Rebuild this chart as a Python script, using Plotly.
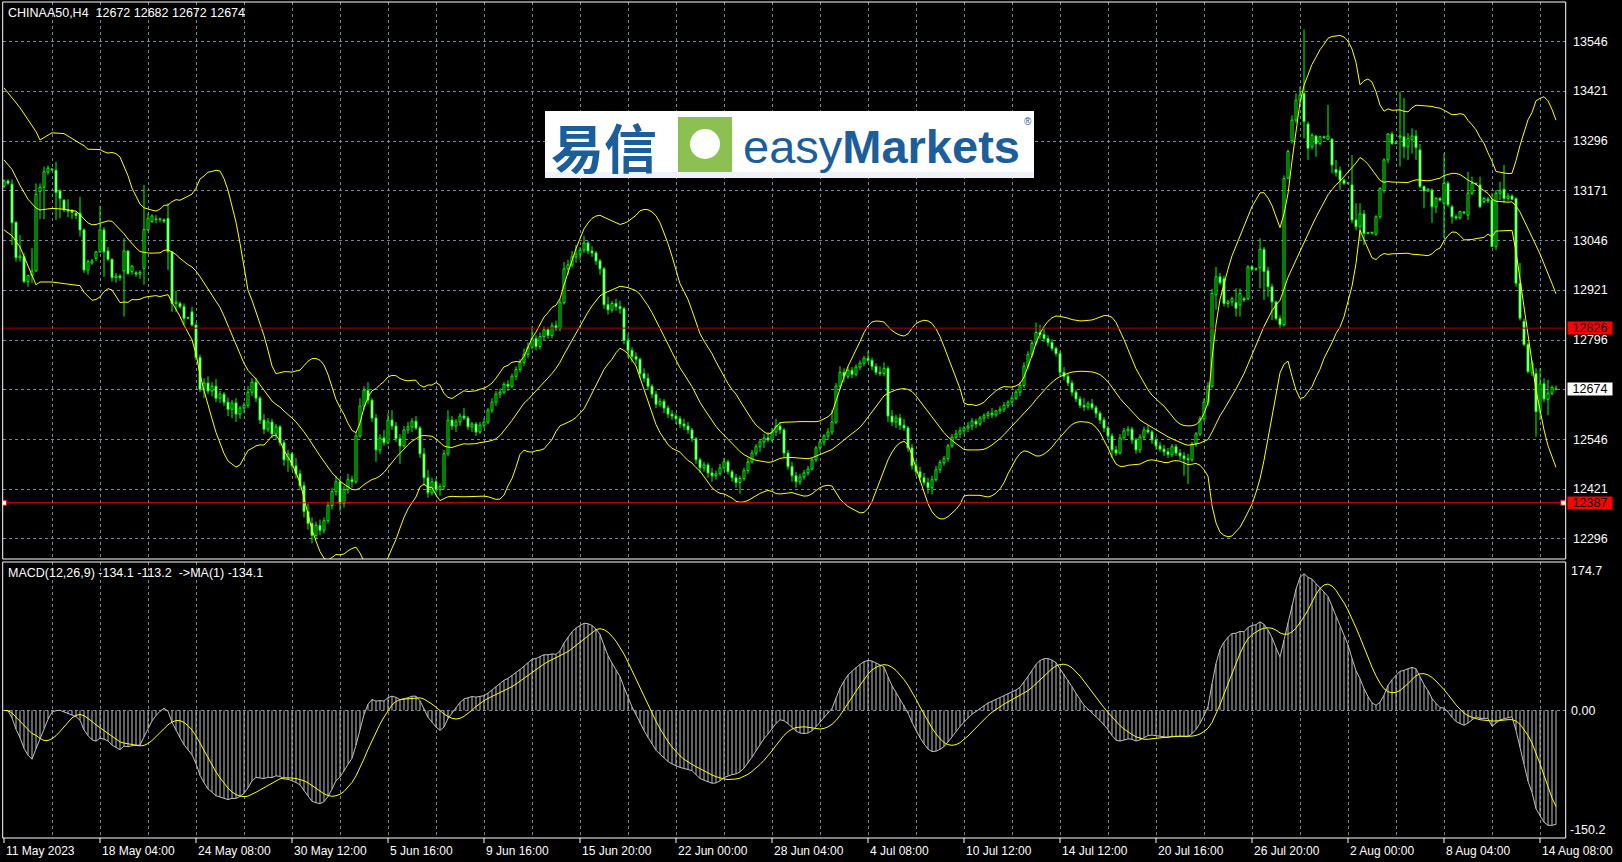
import numpy as np
import pandas as pd
import plotly.graph_objects as go

W, H = 1622, 862

# ---------------- data ----------------
x_tick_bars = [0, 24, 48, 72, 96, 120, 144, 168, 192, 216, 240, 264, 288, 312, 336, 360, 384]
x_tick_labels = ["11 May 2023", "18 May 04:00", "24 May 08:00", "30 May 12:00", "5 Jun 16:00",
                 "9 Jun 16:00", "15 Jun 20:00", "22 Jun 00:00", "28 Jun 04:00", "4 Jul 08:00",
                 "10 Jul 12:00", "14 Jul 12:00", "20 Jul 16:00", "26 Jul 20:00", "2 Aug 00:00",
                 "8 Aug 04:00", "14 Aug 08:00"]
price_labels = [13546, 13421, 13296, 13171, 13046, 12921, 12796, 12546, 12421, 12296]
price_grid = [13546, 13421, 13296, 13171, 13046, 12921, 12796, 12671, 12546, 12421, 12296]

opens = [
    13183, 13196, 13188, 13092, 13003, 13006, 12943, 12958, 12970, 13169,
    13180, 13218, 13226, 13223, 13171, 13148, 13123, 13122, 13115, 13115,
    13073, 12972, 12990, 13001, 13018, 13073, 13020, 12999, 12953, 12957,
    12970, 13020, 12968, 12965, 12962, 12976, 13073, 13094, 13100, 13099,
    13098, 13102, 13018, 12888, 12888, 12880, 12851, 12867,
    12834, 12752, 12672, 12688, 12668, 12680, 12650, 12660, 12640, 12622,
    12638, 12610, 12625, 12632, 12665, 12690, 12650, 12595, 12572, 12590,
    12560, 12578, 12538, 12495, 12510, 12480, 12460, 12430, 12365, 12335,
    12305, 12330, 12318, 12342, 12380, 12415, 12440, 12385, 12420, 12445,
    12440, 12555, 12630, 12670, 12645, 12600, 12520, 12550, 12538, 12595,
    12580, 12548, 12530, 12570, 12578, 12592, 12575, 12510, 12450, 12412,
    12440, 12420, 12428, 12510, 12595, 12580, 12590, 12605, 12600, 12578,
    12585, 12565, 12582, 12590, 12620, 12640, 12660, 12665, 12685, 12680,
    12705, 12722, 12740, 12760, 12778, 12800, 12780, 12805, 12822, 12808,
    12832, 12825, 12890, 12975, 12985, 13005, 13012, 13022, 13040, 13020,
    13015, 12995, 12975, 12885, 12872, 12888, 12880, 12875, 12795, 12770,
    12755, 12748, 12712, 12700, 12680, 12660, 12635, 12642, 12625, 12610,
    12605, 12598, 12585, 12580, 12570, 12548, 12495, 12475, 12482, 12462,
    12455, 12460, 12475, 12490, 12465, 12450, 12438, 12448, 12468, 12490,
    12512, 12528, 12540, 12550, 12545, 12565, 12580, 12570, 12512, 12478,
    12455, 12440, 12452, 12462, 12472, 12495, 12525, 12540, 12555, 12565,
    12590, 12680, 12715, 12705, 12720, 12710, 12728, 12738, 12750, 12745,
    12730, 12715, 12712, 12725, 12605, 12590, 12600, 12582, 12575, 12525,
    12480, 12465, 12450, 12438, 12425, 12445, 12470, 12488, 12498, 12530,
    12552, 12560, 12568, 12575, 12580, 12592, 12585, 12600, 12606, 12612,
    12608, 12618, 12622, 12632, 12640, 12650, 12665, 12682, 12730, 12760,
    12788, 12815, 12810, 12800, 12790, 12775, 12762, 12715, 12705, 12688,
    12665, 12648, 12632, 12628, 12636, 12626, 12612, 12595, 12575, 12555,
    12520, 12512, 12550, 12568, 12572, 12545, 12520, 12552, 12570, 12565,
    12545, 12530, 12522, 12515, 12508, 12528, 12512, 12505, 12498, 12495,
    12535, 12560, 12598, 12640, 12680, 12910, 12955, 12950, 12888, 12892,
    12890, 12884, 12900, 12900, 12980, 12974, 12978, 13024, 12970, 12930,
    12892, 12850, 12835, 13203, 13297, 13349, 13399, 13416, 13339, 13282,
    13309, 13290, 13307, 13301, 13301, 13225, 13222, 13198, 13190, 13186,
    13098, 13081, 13113, 13064, 13066, 13062, 13106, 13172, 13249, 13314,
    13290, 13306, 13307, 13282, 13300, 13309, 13274, 13182, 13171, 13173,
    13131, 13152, 13140, 13190, 13131, 13106, 13103, 13118, 13110, 13165,
    13190, 13186, 13144, 13150, 13148, 13031, 13165, 13175, 13152, 13158,
    13152, 12939, 12843, 12785, 12714, 12712, 12616, 12686, 12647, 12662, 12672]
highs = [
    13200, 13200, 13200, 13095, 13060, 13015, 12960, 13027, 13190, 13190,
    13232, 13235, 13228, 13244, 13175, 13150, 13150, 13125, 13118, 13156,
    13076, 12998, 13000, 13020, 13133, 13080, 13030, 13002, 12965, 12962,
    13052, 13022, 12985, 12970, 12972, 13186, 13115, 13112, 13110, 13104,
    13102, 13140, 13020, 12920, 12893, 12888, 12855, 12880,
    12840, 12760, 12700, 12705, 12690, 12698, 12668, 12665, 12652, 12645,
    12650, 12630, 12640, 12680, 12700, 12702, 12655, 12610, 12600, 12598,
    12585, 12582, 12545, 12520, 12515, 12500, 12470, 12440, 12385, 12350,
    12340, 12345, 12350, 12390, 12425, 12455, 12448, 12430, 12460, 12455,
    12565, 12650, 12680, 12690, 12650, 12610, 12560, 12570, 12612, 12620,
    12590, 12560, 12580, 12590, 12600, 12605, 12580, 12525, 12470, 12450,
    12448, 12435, 12520, 12620, 12605, 12598, 12612, 12625, 12605, 12590,
    12590, 12590, 12600, 12625, 12650, 12668, 12675, 12690, 12695, 12712,
    12730, 12748, 12775, 12790, 12830, 12808, 12815, 12830, 12828, 12840,
    12845, 12900, 12992, 12998, 13020, 13035, 13030, 13058, 13045, 13032,
    13020, 13000, 12980, 12905, 12895, 12900, 12895, 12880, 12810, 12778,
    12765, 12752, 12725, 12712, 12685, 12668, 12650, 12648, 12632, 12620,
    12612, 12605, 12598, 12590, 12575, 12552, 12500, 12490, 12488, 12475,
    12468, 12485, 12500, 12495, 12470, 12460, 12455, 12475, 12500, 12520,
    12535, 12545, 12560, 12565, 12575, 12598, 12590, 12575, 12520, 12490,
    12465, 12460, 12470, 12480, 12500, 12530, 12545, 12560, 12575, 12620,
    12688, 12730, 12725, 12730, 12728, 12735, 12745, 12756, 12768, 12752,
    12738, 12730, 12740, 12730, 12620, 12608, 12610, 12598, 12580, 12535,
    12495, 12478, 12462, 12450, 12455, 12480, 12495, 12505, 12535, 12560,
    12570, 12578, 12580, 12590, 12600, 12598, 12605, 12612, 12618, 12625,
    12620, 12630, 12640, 12645, 12658, 12672, 12690, 12740, 12768, 12795,
    12840, 12835, 12828, 12808, 12798, 12780, 12768, 12728, 12712, 12695,
    12672, 12655, 12650, 12642, 12648, 12632, 12618, 12602, 12580, 12562,
    12530, 12560, 12575, 12580, 12578, 12550, 12560, 12578, 12582, 12570,
    12552, 12540, 12532, 12525, 12535, 12535, 12522, 12515, 12510, 12540,
    12565, 12605, 12650, 12690, 12925, 12980, 12965, 12958, 12898, 12905,
    12926, 12926, 12905, 12984, 12985, 12978, 13052, 13030, 12980, 12938,
    12895, 12858, 13210, 13275, 13361, 13416, 13433, 13577, 13345, 13316,
    13311, 13310, 13310, 13387, 13303, 13249, 13232, 13202, 13193, 13261,
    13140, 13140, 13123, 13068, 13069, 13110, 13180, 13253, 13316, 13320,
    13296, 13420, 13404, 13316, 13328, 13324, 13289, 13185, 13178, 13177,
    13156, 13156, 13265, 13195, 13136, 13112, 13121, 13120, 13219, 13207,
    13192, 13207, 13156, 13156, 13165, 13173, 13194, 13236, 13165, 13163,
    13155, 12990, 12850, 12790, 12745, 12725, 12725, 12700, 12696, 12682, 12682]
lows = [
    13178, 13186, 13035, 12993, 12993, 12939, 12930, 12939, 12968, 13100,
    13100, 13212, 13222, 13098, 13102, 13118, 13105, 13100, 13100, 13056,
    12965, 12960, 12985, 12995, 13015, 12955, 12995, 12943, 12940, 12945,
    12855, 12960, 12960, 12955, 12950, 12935, 13070, 13090, 13090, 13092,
    13090, 12972, 12867, 12867, 12875, 12835, 12848, 12830,
    12745, 12665, 12650, 12660, 12655, 12640, 12638, 12630, 12605, 12600,
    12590, 12598, 12612, 12625, 12655, 12640, 12585, 12560, 12565, 12550,
    12545, 12530, 12480, 12465, 12470, 12448, 12420, 12350, 12320, 12285,
    12295, 12305, 12310, 12335, 12370, 12405, 12365, 12375, 12410, 12425,
    12435, 12550, 12620, 12635, 12590, 12490, 12510, 12530, 12535, 12570,
    12540, 12485, 12525, 12560, 12565, 12570, 12500, 12430, 12400, 12405,
    12410, 12405, 12420, 12505, 12570, 12565, 12580, 12595, 12570, 12565,
    12555, 12560, 12575, 12585, 12612, 12630, 12650, 12660, 12668, 12675,
    12695, 12715, 12730, 12750, 12772, 12770, 12772, 12795, 12800, 12800,
    12818, 12818, 12885, 12960, 12978, 12990, 12998, 13015, 13012, 13005,
    12985, 12960, 12875, 12860, 12865, 12870, 12862, 12785, 12752, 12740,
    12735, 12700, 12690, 12670, 12650, 12625, 12628, 12612, 12600, 12595,
    12585, 12575, 12570, 12560, 12540, 12485, 12462, 12465, 12450, 12440,
    12445, 12455, 12468, 12458, 12440, 12425, 12410, 12442, 12460, 12485,
    12505, 12515, 12525, 12540, 12540, 12555, 12560, 12500, 12470, 12440,
    12425, 12432, 12445, 12455, 12468, 12490, 12515, 12530, 12545, 12558,
    12585, 12672, 12690, 12698, 12700, 12705, 12720, 12730, 12740, 12720,
    12708, 12705, 12705, 12590, 12580, 12575, 12570, 12568, 12515, 12470,
    12455, 12440, 12430, 12410, 12408, 12440, 12462, 12480, 12490, 12525,
    12545, 12550, 12560, 12565, 12570, 12575, 12580, 12590, 12598, 12600,
    12602, 12610, 12615, 12625, 12632, 12645, 12655, 12675, 12722, 12752,
    12782, 12798, 12792, 12780, 12768, 12755, 12705, 12695, 12680, 12655,
    12640, 12625, 12618, 12620, 12620, 12600, 12585, 12565, 12545, 12500,
    12505, 12508, 12545, 12555, 12535, 12510, 12512, 12545, 12560, 12535,
    12520, 12515, 12505, 12500, 12502, 12505, 12495, 12455, 12434, 12490,
    12528, 12555, 12590, 12630, 12675, 12872, 12935, 12880, 12878, 12882,
    12855, 12855, 12892, 12897, 12968, 12970, 12926, 12897, 12905, 12846,
    12845, 12825, 12830, 13200, 13290, 13341, 13391, 13303, 13249, 13275,
    13257, 13285, 13302, 13299, 13215, 13207, 13173, 13186, 13187, 13089,
    13072, 13048, 13035, 13062, 13061, 13058, 13100, 13165, 13240, 13286,
    13288, 13232, 13253, 13249, 13265, 13249, 13177, 13127, 13168, 13091,
    13115, 13144, 13052, 13130, 13089, 13098, 13099, 13112, 13098, 13161,
    13185, 13127, 13140, 13140, 13031, 13022, 13148, 13140, 13145, 13148,
    12930, 12845, 12780, 12712, 12705, 12553, 12595, 12640, 12607, 12657, 12672]
closes = [
    13196, 13190, 13091, 13003, 13007, 12943, 12958, 12970, 13162, 13180,
    13219, 13228, 13224, 13167, 13152, 13123, 13120, 13117, 13109, 13073,
    12972, 12993, 12995, 13018, 13073, 13018, 12999, 12953, 12957, 12953,
    13020, 12963, 12982, 12962, 12966, 13074, 13102, 13108, 13099, 13100,
    13095, 13018, 12888, 12892, 12880, 12851, 12851, 12834,
    12752, 12672, 12688, 12668, 12680, 12650, 12660, 12640, 12622, 12638,
    12610, 12625, 12632, 12665, 12690, 12650, 12595, 12572, 12590, 12560,
    12578, 12538, 12495, 12510, 12480, 12460, 12430, 12365, 12335, 12305,
    12330, 12318, 12342, 12380, 12415, 12440, 12385, 12420, 12445, 12440,
    12555, 12630, 12670, 12645, 12600, 12520, 12550, 12538, 12595, 12580,
    12548, 12530, 12570, 12578, 12592, 12575, 12510, 12450, 12412, 12440,
    12420, 12428, 12510, 12595, 12580, 12590, 12605, 12600, 12578, 12585,
    12565, 12582, 12590, 12620, 12640, 12660, 12665, 12685, 12680, 12705,
    12722, 12740, 12760, 12778, 12800, 12780, 12805, 12822, 12808, 12832,
    12825, 12890, 12975, 12985, 13005, 13012, 13022, 13040, 13020, 13015,
    12995, 12975, 12885, 12872, 12888, 12880, 12875, 12795, 12770, 12755,
    12748, 12712, 12700, 12680, 12660, 12635, 12642, 12625, 12610, 12605,
    12598, 12585, 12580, 12570, 12548, 12495, 12475, 12482, 12462, 12455,
    12460, 12475, 12490, 12465, 12450, 12438, 12448, 12468, 12490, 12512,
    12528, 12540, 12550, 12545, 12565, 12580, 12570, 12512, 12478, 12455,
    12440, 12452, 12462, 12472, 12495, 12525, 12540, 12555, 12565, 12590,
    12680, 12715, 12705, 12720, 12710, 12728, 12738, 12750, 12745, 12730,
    12715, 12712, 12725, 12605, 12590, 12600, 12582, 12575, 12525, 12480,
    12465, 12450, 12438, 12425, 12445, 12470, 12488, 12498, 12530, 12552,
    12560, 12568, 12575, 12580, 12592, 12585, 12600, 12606, 12612, 12608,
    12618, 12622, 12632, 12640, 12650, 12665, 12682, 12730, 12760, 12788,
    12815, 12810, 12800, 12790, 12775, 12762, 12715, 12705, 12688, 12665,
    12648, 12632, 12628, 12636, 12626, 12612, 12595, 12575, 12555, 12520,
    12512, 12550, 12568, 12572, 12545, 12520, 12552, 12570, 12565, 12545,
    12530, 12522, 12515, 12508, 12528, 12512, 12505, 12498, 12495, 12535,
    12560, 12598, 12640, 12680, 12913, 12955, 12940, 12888, 12892, 12900,
    12876, 12913, 12897, 12980, 12974, 12975, 13024, 12968, 12930, 12892,
    12850, 12835, 13202, 13270, 13349, 13399, 13412, 13345, 13278, 13311,
    13289, 13307, 13305, 13309, 13236, 13217, 13198, 13190, 13191, 13098,
    13081, 13113, 13064, 13066, 13065, 13106, 13177, 13249, 13314, 13290,
    13292, 13309, 13282, 13303, 13309, 13280, 13182, 13171, 13175, 13131,
    13152, 13148, 13190, 13136, 13106, 13103, 13119, 13116, 13165, 13190,
    13188, 13131, 13152, 13146, 13031, 13165, 13171, 13152, 13158, 13150,
    12939, 12851, 12785, 12717, 12738, 12616, 12686, 12648, 12662, 12677, 12674]

# Bollinger values for the bars before a full 20-bar window exists
bb_head_bars = [0, 2, 4, 6, 8, 9, 12, 15, 18]
bb_head_upper = [13430, 13405, 13380, 13350, 13320, 13299, 13317, 13315, 13295]
bb_head_mid = [13249, 13225, 13185, 13150, 13128, 13123, 13127, 13125, 13120]
bb_head_lower = [13073, 13058, 13030, 12980, 12935, 12942, 12942, 12938, 12935]

# ---------------- geometry ----------------
PX_L, PX_R = 2.7, 1565.7
PY_T1, PY_B1 = 2.0, 559.0
PY_T2, PY_B2 = 562.0, 838.0


def fx(p):
    return p / W


def fy(p):
    return 1 - p / H


X_RANGE = [(PX_L - 4) / 4, (PX_R - 4) / 4]
P_RANGE = [12245.7, 13645.8]
M_RANGE = [-150.2, 174.7]

LIME = "#00FF00"
YEL = "#FFFF00"
SILVER = "#C0C0C0"
GRID = "#778899"
FONT = "Liberation Sans"

o = np.array(opens, float)
c = np.array(closes, float)
h = np.maximum.reduce([np.array(highs, float), o, c])
l = np.minimum.reduce([np.array(lows, float), o, c])
N = len(c)
xb = np.arange(N)

fig = go.Figure()

# candle wicks (split so they do not cross the hollow bodies)
wx, wy = [], []
for i in range(N):
    top, bot = max(o[i], c[i]), min(o[i], c[i])
    wx += [i, i, None, i, i, None]
    wy += [h[i], top, None, bot, l[i], None]
fig.add_trace(go.Scatter(x=wx, y=wy, mode="lines", line=dict(color=LIME, width=1),
                         hoverinfo="skip", xaxis="x", yaxis="y"))
bull = c >= o
for mask, fill in ((bull, "black"), (~bull, "white")):
    idx = xb[mask]
    base = np.minimum(o, c)[mask]
    hgt = np.maximum(np.abs(c - o)[mask], 1.5)
    fig.add_trace(go.Bar(x=idx, y=hgt, base=base, width=0.5,
                         marker=dict(color=fill, line=dict(color=LIME, width=1)),
                         hoverinfo="skip", xaxis="x", yaxis="y"))

# Bollinger bands (20, 2)
cs = pd.Series(c)
mid = cs.rolling(20).mean()
sd = cs.rolling(20).std(ddof=0)
up = mid + 2 * sd
lo = mid - 2 * sd
for head, ser in ((bb_head_upper, up), (bb_head_mid, mid), (bb_head_lower, lo)):
    xs = list(bb_head_bars) + list(range(19, N))
    ys = list(head) + list(ser.values[19:])
    fig.add_trace(go.Scatter(x=xs, y=ys, mode="lines", line=dict(color=YEL, width=1),
                             hoverinfo="skip", xaxis="x", yaxis="y"))

# MACD (12,26,9)
ema12 = cs.ewm(span=12, adjust=False).mean()
ema26 = cs.ewm(span=26, adjust=False).mean()
macd = (ema12 - ema26).values
signal = pd.Series(macd).rolling(9, min_periods=1).mean().values
hx, hy = [], []
for i in range(N):
    hx += [i, i, None]
    hy += [0, macd[i], None]
fig.add_trace(go.Scatter(x=hx, y=hy, mode="lines", line=dict(color=SILVER, width=1),
                         hoverinfo="skip", xaxis="x2", yaxis="y2"))
fig.add_trace(go.Scatter(x=xb, y=macd, mode="lines", line=dict(color=SILVER, width=1),
                         hoverinfo="skip", xaxis="x2", yaxis="y2"))
fig.add_trace(go.Scatter(x=xb, y=signal, mode="lines", line=dict(color=YEL, width=1),
                         hoverinfo="skip", xaxis="x2", yaxis="y2"))

# horizontal levels
fig.add_trace(go.Scatter(x=[X_RANGE[0], X_RANGE[1]], y=[12826, 12826], mode="lines",
                         line=dict(color="#A80000", width=1), hoverinfo="skip", xaxis="x", yaxis="y"))
fig.add_trace(go.Scatter(x=[0, X_RANGE[1]], y=[12387, 12387], mode="lines",
                         line=dict(color="#FF0000", width=1), hoverinfo="skip", xaxis="x", yaxis="y"))
fig.add_trace(go.Scatter(x=[0, X_RANGE[1] - 0.6], y=[12387, 12387], mode="markers",
                         marker=dict(symbol="square", size=5, color="white", line=dict(color="#FF0000", width=1)),
                         hoverinfo="skip", xaxis="x", yaxis="y"))

grid_bars = list(range(12, 389, 12))
axis_common = dict(showticklabels=False, zeroline=False, showline=False, ticks="", fixedrange=True)
fig.update_layout(
    width=W, height=H, margin=dict(l=0, r=0, t=0, b=0),
    paper_bgcolor="black", plot_bgcolor="black", showlegend=False, barmode="overlay",
    xaxis=dict(domain=[fx(PX_L), fx(PX_R)], range=X_RANGE, anchor="y", tickvals=grid_bars,
               showgrid=True, gridcolor=GRID, gridwidth=1, griddash="3px,3px",
               rangeslider=dict(visible=False), **axis_common),
    yaxis=dict(domain=[fy(PY_B1), fy(PY_T1)], range=P_RANGE, anchor="x", tickvals=price_grid,
               showgrid=True, gridcolor=GRID, gridwidth=1, griddash="3px,3px", **axis_common),
    xaxis2=dict(domain=[fx(PX_L), fx(PX_R)], range=X_RANGE, anchor="y2", tickvals=grid_bars,
                showgrid=True, gridcolor=GRID, gridwidth=1, griddash="3px,3px", **axis_common),
    yaxis2=dict(domain=[fy(PY_B2), fy(PY_T2)], range=M_RANGE, anchor="x2", tickvals=[0],
                showgrid=True, gridcolor=GRID, gridwidth=1, griddash="3px,3px", **axis_common),
)

shapes = []
for (t, b) in ((PY_T1, PY_B1), (PY_T2, PY_B2)):
    shapes.append(dict(type="rect", xref="paper", yref="paper", x0=fx(PX_L), x1=fx(PX_R),
                       y0=fy(b), y1=fy(t), line=dict(color="white", width=1), layer="above"))
for tb_ in x_tick_bars:
    xp = 4 + 4 * tb_
    shapes.append(dict(type="line", xref="paper", yref="paper", x0=fx(xp), x1=fx(xp),
                       y0=fy(838), y1=fy(843), line=dict(color="white", width=1)))
# logo panel
shapes.append(dict(type="rect", xref="paper", yref="paper", x0=fx(545), x1=fx(1034), y0=fy(178), y1=fy(111),
                   fillcolor="white", line=dict(width=0), layer="above"))
shapes.append(dict(type="rect", xref="paper", yref="paper", x0=fx(545), x1=fx(1034), y0=fy(178), y1=fy(172),
                   fillcolor="#EEF2F7", line=dict(width=0), layer="above"))
shapes.append(dict(type="rect", xref="paper", yref="paper", x0=fx(679), x1=fx(731), y0=fy(171), y1=fy(118),
                   fillcolor="#8CC152", line=dict(color="#8CC152", width=2), layer="above"))
shapes.append(dict(type="circle", xref="paper", yref="paper", x0=fx(690), x1=fx(720), y0=fy(159), y1=fy(129),
                   fillcolor="white", line=dict(width=0), layer="above"))
fig.update_layout(shapes=shapes)

ann = []


def text(xp, yp, s, size=12.5, color="white", xanchor="left", family=FONT):
    ann.append(dict(xref="paper", yref="paper", x=fx(xp), y=fy(yp), text=s, showarrow=False,
                    xanchor=xanchor, yanchor="middle", font=dict(family=family, size=size, color=color)))


text(6, 13.5, "CHINAA50,H4  12672 12682 12672 12674")
text(6, 573, "MACD(12,26,9) -134.1 -113.2  -&gt;MA(1) -134.1")
for v in price_labels:
    yp = 41.7 + (13546 - v) * 0.39784
    text(1571, yp, str(v))
for v, bg, fc in ((12826, "#FF0000", "black"), (12674, "white", "black"), (12387, "#FF0000", "black")):
    yp = 41.7 + (13546 - v) * 0.39784
    ann.append(dict(xref="paper", yref="paper", x=fx(1566.5), y=fy(yp), text=str(v), showarrow=False,
                    xanchor="left", yanchor="middle", width=44, height=12, align="center",
                    bgcolor=bg, borderpad=0, font=dict(family=FONT, size=12.5, color=fc)))
text(1568.5, 571, "174.7")
text(1568.5, 711, "0.00")
text(1567.5, 830, "-150.2")
for tb_, lab in zip(x_tick_bars, x_tick_labels):
    text(4 + 4 * tb_, 851, lab, size=12)
# logo texts
text(549, 146, "<b>易信</b>", size=53, color="#1B5E9A", family="Noto Sans CJK SC")
text(741, 146, "easy<b>Markets</b>", size=47, color="#1B5E9A")
text(1028, 121, "®", size=10, color="#1B5E9A", xanchor="center")
fig.update_layout(annotations=ann)

fig.write_html("out.html", config={"displayModeBar": False})

# remove the browser's default page margin so the figure sits at the window origin
with open("out.html", "r", encoding="utf-8") as f:
    page = f.read()
page = page.replace("<body>", '<body style="margin:0;padding:0;overflow:hidden;background:black">', 1)
with open("out.html", "w", encoding="utf-8") as f:
    f.write(page)
